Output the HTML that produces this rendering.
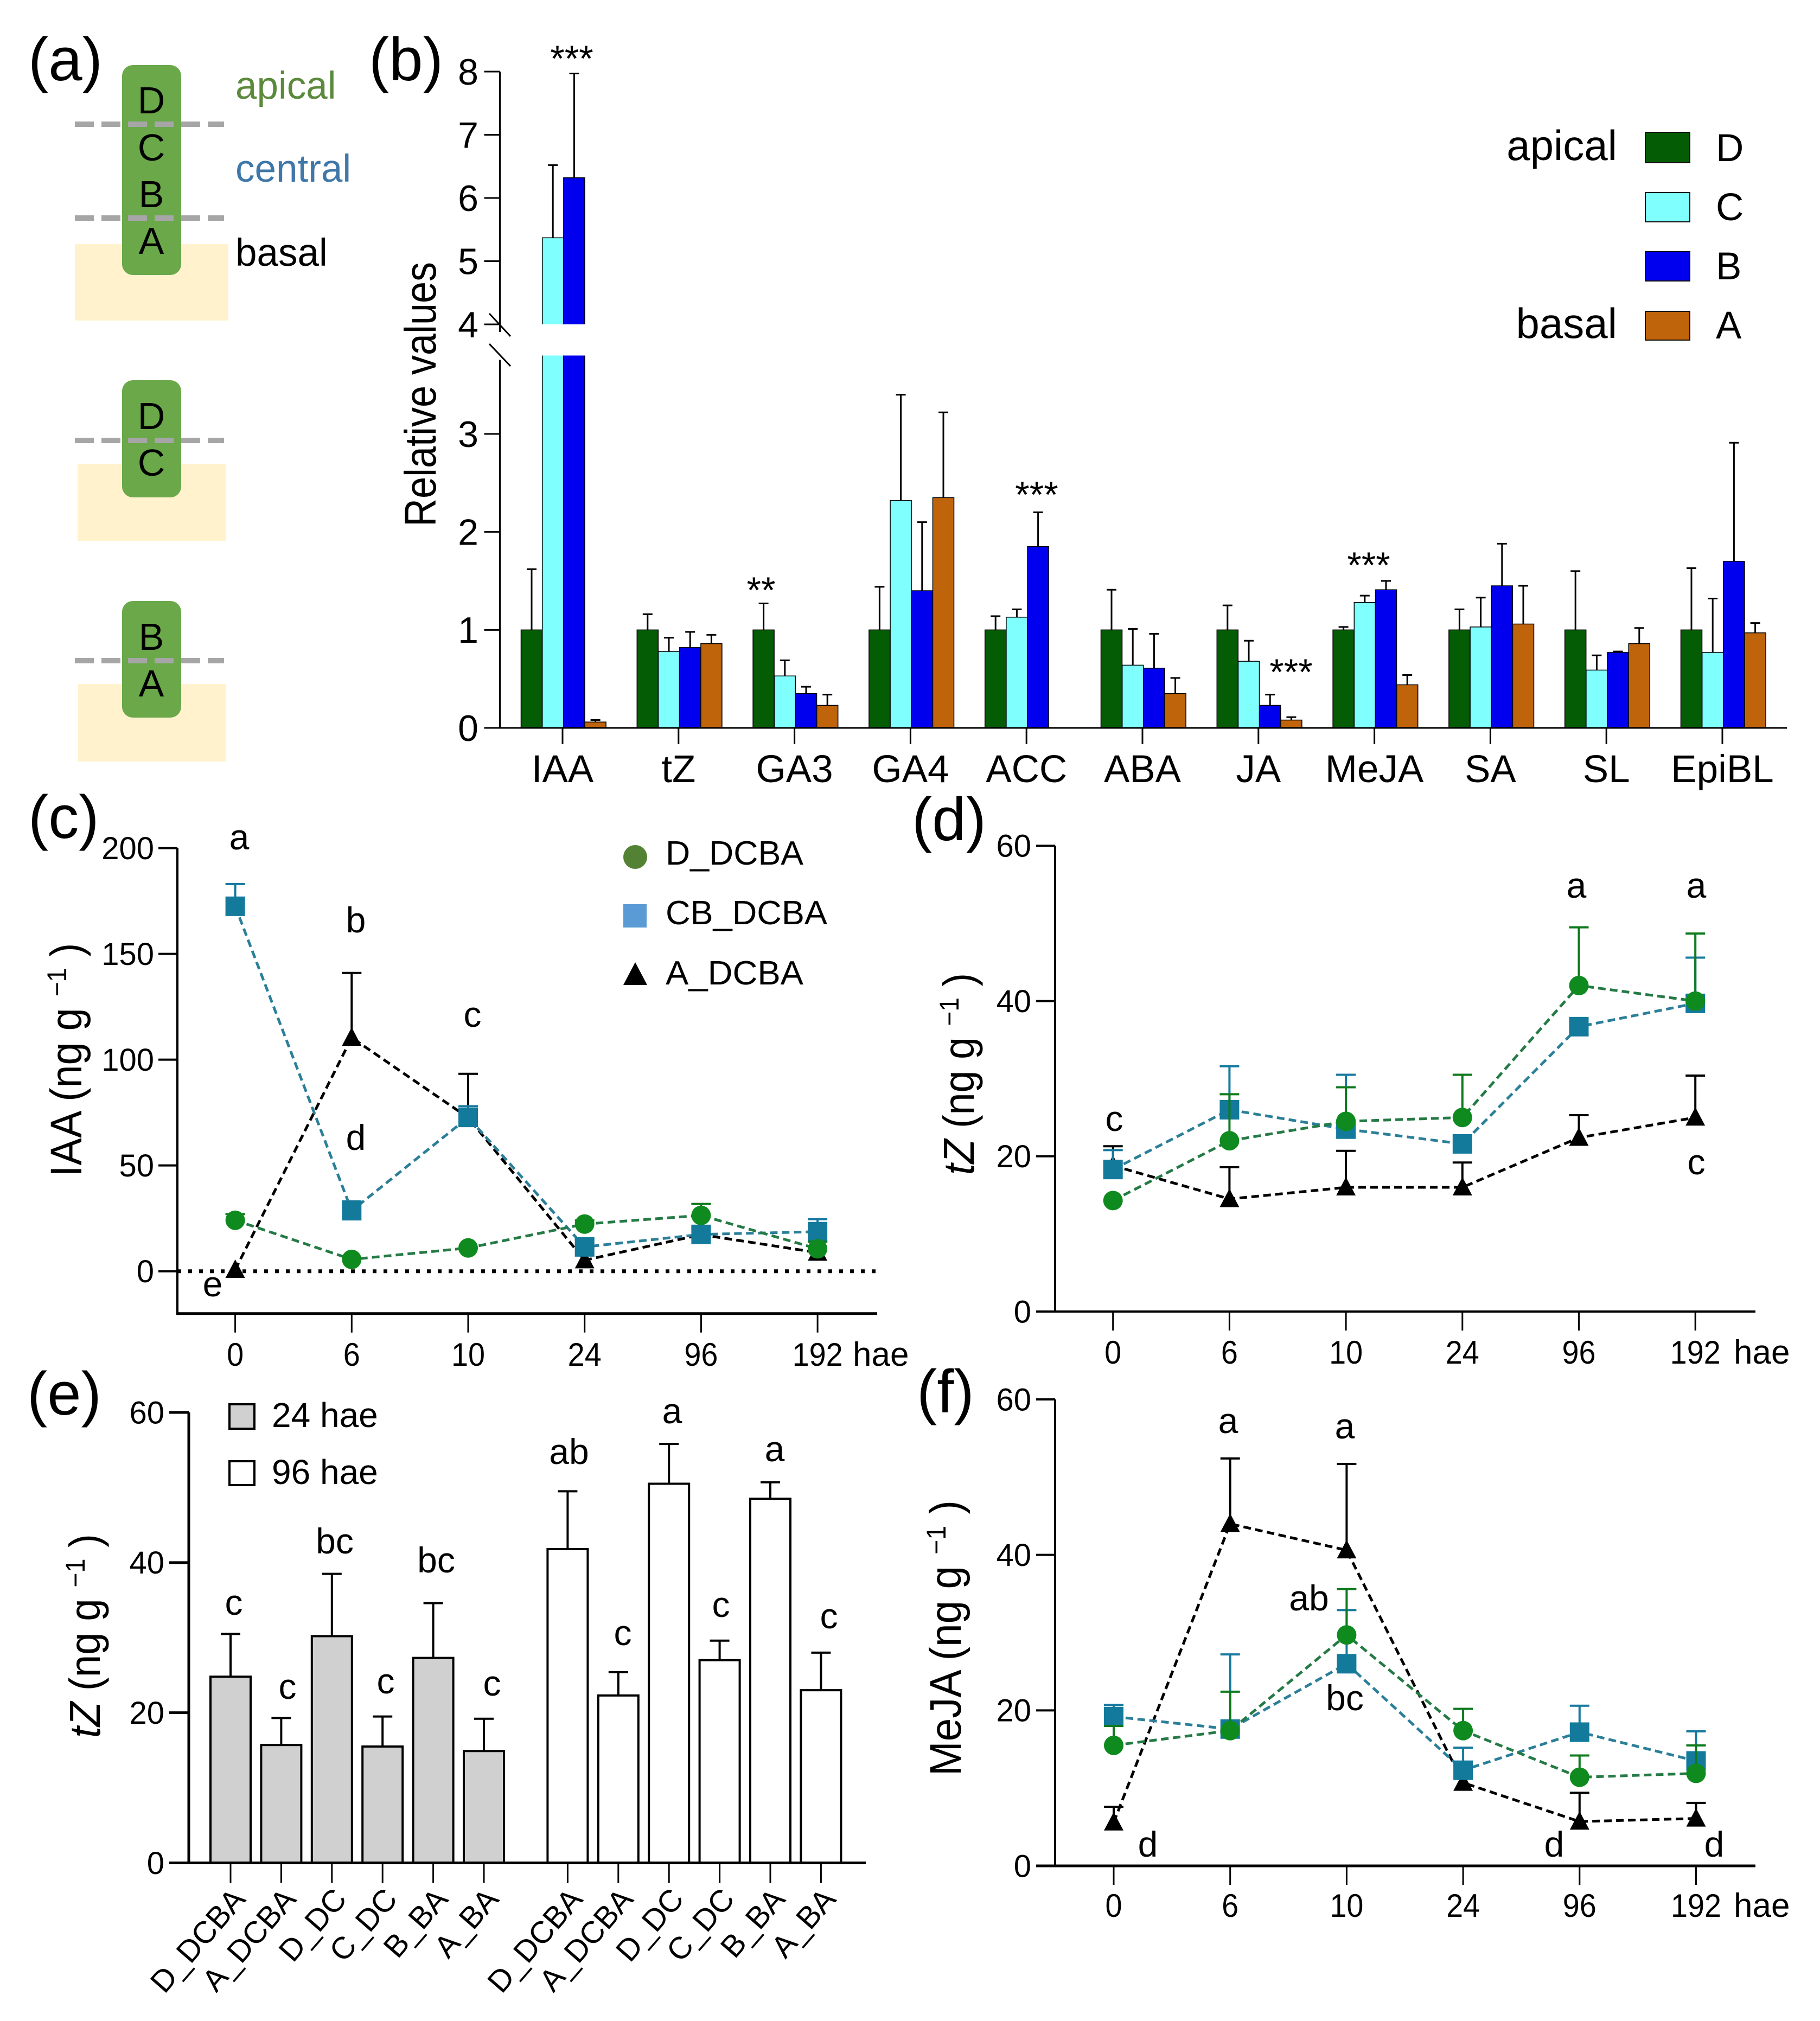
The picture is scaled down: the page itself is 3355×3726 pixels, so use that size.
<!DOCTYPE html>
<html lang="en">
<head>
<meta charset="utf-8">
<title>Hormone profiles across stem segments</title>
<style>
html,body{margin:0;padding:0;background:#fff;}
svg{display:block;}
text{font-family:"Liberation Sans",sans-serif;fill:#000;}
</style>
</head>
<body>
<svg id="fig" xmlns="http://www.w3.org/2000/svg" width="3355" height="3726" viewBox="0 0 3355 3726">
  <rect x="0" y="0" width="3355" height="3726" fill="#ffffff"/>

  <!-- panel labels -->
  <g font-size="112">
    <text x="52" y="148">(a)</text>
    <text x="680" y="148">(b)</text>
    <text x="52" y="1545">(c)</text>
    <text x="1681" y="1549">(d)</text>
    <text x="50" y="2608">(e)</text>
    <text x="1690" y="2604">(f)</text>
  </g>

  <!-- panel a -->
  <g>
    <rect x="138" y="450" width="283" height="141" fill="#fff2cc"/>
    <rect x="143" y="855" width="273" height="142" fill="#fff2cc"/>
    <rect x="144" y="1261" width="272" height="143" fill="#fff2cc"/>
    <rect x="225" y="120" width="109" height="387" rx="20" fill="#6aa84a"/>
    <rect x="225" y="701" width="109" height="216" rx="20" fill="#6aa84a"/>
    <rect x="225" y="1108" width="109" height="215" rx="20" fill="#6aa84a"/>
    <g stroke="#a6a6a6" stroke-width="10" stroke-dasharray="35 14">
      <line x1="138" y1="229" x2="413" y2="229"/>
      <line x1="138" y1="402" x2="413" y2="402"/>
      <line x1="138" y1="812" x2="413" y2="812"/>
      <line x1="138" y1="1218" x2="413" y2="1218"/>
    </g>
    <g font-size="70" text-anchor="middle">
      <text x="279" y="209">D</text>
      <text x="279" y="296">C</text>
      <text x="279" y="382">B</text>
      <text x="279" y="468">A</text>
      <text x="279" y="791">D</text>
      <text x="279" y="877">C</text>
      <text x="279" y="1198">B</text>
      <text x="279" y="1284">A</text>
    </g>
    <text x="434" y="182" font-size="71" style="fill:#5b8a3c">apical</text>
    <text x="434" y="335" font-size="71" style="fill:#3f77a8">central</text>
    <text x="434" y="490" font-size="71">basal</text>
  </g>

  <!-- panel b static -->
  <g>
    <text x="2981" y="295" font-size="78" text-anchor="end">apical</text>
    <text x="2981" y="623" font-size="78" text-anchor="end">basal</text>
    <rect x="3033" y="244" width="82" height="56" fill="#045c04" stroke="#111" stroke-width="2"/>
    <rect x="3033" y="355" width="82" height="54" fill="#80ffff" stroke="#111" stroke-width="2"/>
    <rect x="3033" y="464" width="82" height="54" fill="#0000ee" stroke="#111" stroke-width="2"/>
    <rect x="3033" y="574" width="82" height="53" fill="#c0640c" stroke="#111" stroke-width="2"/>
    <text x="3163" y="297" font-size="71">D</text>
    <text x="3163" y="406" font-size="71">C</text>
    <text x="3163" y="515" font-size="71">B</text>
    <text x="3163" y="624" font-size="71">A</text>
  </g>
  <text transform="translate(803 727) rotate(-90)" text-anchor="middle" font-size="82" textLength="488" lengthAdjust="spacingAndGlyphs">Relative values</text>
  <g font-size="68" text-anchor="middle">
    <text x="1054" y="131">***</text>
    <text x="1403" y="1111">**</text>
    <text x="1911" y="935">***</text>
    <text x="2380" y="1262">***</text>
    <text x="2523" y="1065">***</text>
  </g>

  <!-- panel c static -->
  <g>
    <circle cx="1171" cy="1580" r="22" fill="#548235"/>
    <rect x="1149" y="1667" width="43" height="43" fill="#5b9bd5"/>
    <polygon points="1171,1774 1149,1816 1193,1816" fill="#000"/>
    <text x="1227" y="1594" font-size="62" textLength="254" lengthAdjust="spacingAndGlyphs">D_DCBA</text>
    <text x="1227" y="1704" font-size="62" textLength="298" lengthAdjust="spacingAndGlyphs">CB_DCBA</text>
    <text x="1227" y="1815" font-size="62" textLength="254" lengthAdjust="spacingAndGlyphs">A_DCBA</text>
  </g>
  <text transform="translate(150 1954) rotate(-90)" text-anchor="middle" font-size="82" textLength="431" lengthAdjust="spacingAndGlyphs">IAA (ng g <tspan dy="-28" font-size="50">&#8722;1</tspan><tspan dy="28"> )</tspan></text>
  <g font-size="66" text-anchor="middle">
    <text x="441" y="1566">a</text>
    <text x="656" y="1719">b</text>
    <text x="871" y="1893">c</text>
    <text x="656" y="2120">d</text>
    <text x="392" y="2390">e</text>
  </g>

  <!-- panel d static -->
  <text transform="translate(1795 1980) rotate(-90)" text-anchor="middle" font-size="80" textLength="372" lengthAdjust="spacingAndGlyphs"><tspan font-style="italic">tZ</tspan> (ng g <tspan dy="-28" font-size="50">&#8722;1</tspan><tspan dy="28"> )</tspan></text>
  <g font-size="66" text-anchor="middle">
    <text x="2054" y="2085">c</text>
    <text x="2906" y="1655">a</text>
    <text x="3127" y="1655">a</text>
    <text x="3127" y="2165">c</text>
  </g>

  <!-- panel e static -->
  <text transform="translate(184 3016) rotate(-90)" text-anchor="middle" font-size="80" textLength="376" lengthAdjust="spacingAndGlyphs"><tspan font-style="italic">tZ</tspan> (ng g <tspan dy="-28" font-size="50">&#8722;1</tspan><tspan dy="28"> )</tspan></text>
  <g>
    <rect x="423" y="2589" width="46" height="45" fill="#d0d0d0" stroke="#000" stroke-width="4"/>
    <rect x="423" y="2694" width="46" height="44" fill="#ffffff" stroke="#000" stroke-width="4"/>
    <text x="501" y="2631" font-size="64">24 hae</text>
    <text x="501" y="2736" font-size="64">96 hae</text>
  </g>
  <g font-size="66" text-anchor="middle">
    <text x="431" y="2977">c</text>
    <text x="530" y="3132">c</text>
    <text x="617" y="2864">bc</text>
    <text x="711" y="3122">c</text>
    <text x="804" y="2899">bc</text>
    <text x="907" y="3126">c</text>
    <text x="1049" y="2699">ab</text>
    <text x="1148" y="3033">c</text>
    <text x="1239" y="2624">a</text>
    <text x="1329" y="2981">c</text>
    <text x="1428" y="2694">a</text>
    <text x="1528" y="3002">c</text>
  </g>

  <!-- panel f static -->
  <text transform="translate(1771 3020) rotate(-90)" text-anchor="middle" font-size="82" textLength="508" lengthAdjust="spacingAndGlyphs">MeJA (ng g <tspan dy="-28" font-size="50">&#8722;1</tspan><tspan dy="28"> )</tspan></text>
  <g font-size="66" text-anchor="middle">
    <text x="2264" y="2642">a</text>
    <text x="2479" y="2652">a</text>
    <text x="2413" y="2969">ab</text>
    <text x="2479" y="3153">bc</text>
    <text x="2116" y="3423">d</text>
    <text x="2865" y="3423">d</text>
    <text x="3160" y="3423">d</text>
  </g>
</svg>

<script>
// ---------- Panel b data ----------
const bCategories = ['IAA','tZ','GA3','GA4','ACC','ABA','JA','MeJA','SA','SL','EpiBL'];
const bTicksLower = [0,1,2,3];
const bTicksUpper = [4,5,6,7,8];
const bSegments = ['D','C','B','A'];
const bD  = [1,1,1,1,1,1,1,1,1,1,1];
const bDErr = [1.62,1.16,1.27,1.44,1.14,1.41,1.25,1.03,1.21,1.60,1.63];
const bC  = [5.37,0.78,0.53,2.32,1.13,0.64,0.68,1.28,1.03,0.59,0.77];
const bCErr = [6.52,0.92,0.69,3.40,1.21,1.01,0.89,1.35,1.33,0.74,1.32];
const bB  = [6.32,0.82,0.35,1.40,1.85,0.61,0.23,1.41,1.45,0.77,1.70];
const bBErr = [7.97,0.98,0.42,2.10,2.20,0.96,0.34,1.50,1.88,0.78,2.91];
const bA  = [0.06,0.86,0.23,2.35,null,0.35,0.08,0.44,1.06,0.86,0.97];
const bAErr = [0.08,0.95,0.34,3.22,null,0.51,0.11,0.54,1.45,1.02,1.07];

// ---------- Panel c data ----------
const timeLabels = ['0','6','10','24','96','192'];
const cTicks = [0,50,100,150,200];
const cD  = [24.1,5.6,11,22.3,26.4,10.6];
const cDErr = [27,null,null,24,31.8,14];
const cCB = [172.5,28.6,72.7,11.5,17.4,18.7];
const cCBErr = [183,33,78,15,21,24.6];
const cA  = [0.7,110.4,72.6,5.2,17.3,8.8];
const cAErr = [null,141,93.3,null,20,14];

// ---------- Panel d data ----------
const dTicks = [0,20,40,60];
const dD  = [14.3,22,24.5,25,42,40];
const dDErr = [null,28,28.9,30.5,49.5,48.7];
const dCB = [18.3,26,23.5,21.6,36.7,39.7];
const dCBErr = [20.8,31.6,30.5,null,null,45.6];
const dA  = [18.8,14.5,16,16,22.4,25];
const dAErr = [21.3,18.6,20.7,19.2,25.3,30.4];

// ---------- Panel e data ----------
const eCategories = ['D_DCBA','A_DCBA','D_DC','C_DC','B_BA','A_BA','D_DCBA','A_DCBA','D_DC','C_DC','B_BA','A_BA'];
const eTimepoints = ['24 hae','24 hae','24 hae','24 hae','24 hae','24 hae','96 hae','96 hae','96 hae','96 hae','96 hae','96 hae'];
const eTicks = [0,20,40,60];
const eValues = [24.8,15.7,30.2,15.5,27.3,14.9,41.8,22.3,50.5,27,48.5,23];
const eErrors = [30.5,19.3,38.5,19.5,34.6,19.2,49.5,25.4,55.8,29.6,50.7,28];

// ---------- Panel f data ----------
const fTicks = [0,20,40,60];
const fD  = [15.5,17.4,29.7,17.4,11.4,11.9];
const fDErr = [18,22.4,35.6,20.2,14.2,15.5];
const fCB = [19.2,17.6,26,12.3,17.2,13.5];
const fCBErr = [20.7,27.2,32.9,15.2,20.6,17.3];
const fA  = [5.6,44,40.6,10.7,5.7,6.1];
const fAErr = [7.6,52.4,51.7,null,9.4,8.1];

// ---------- helpers ----------
const NS = 'http://www.w3.org/2000/svg';
const fig = document.getElementById('fig');
function mk(tag, attrs, parent) {
  const e = document.createElementNS(NS, tag);
  for (const k in attrs) e.setAttribute(k, attrs[k]);
  (parent || fig).appendChild(e);
  return e;
}
function linear(d0, d1, r0, r1) {
  return v => r0 + (v - d0) * (r1 - r0) / (d1 - d0);
}
const COL = {D:'#0f8a1e', CB:'#137a9c', A:'#000000'};
const LINE = {D:'#257a45', CB:'#2b7f98', A:'#000000'};
const STEM = {D:'#0f7a1e', CB:'#17799f', A:'#000000'};

function yAxis(name, x, yTop, yBottom, ticks, scale, tickLen, sw, fs, labelRight) {
  const g = mk('g', {});
  
  
  const l = mk('line', {x1:x, y1:yTop, x2:x, y2:yBottom, stroke:'#000', 'stroke-width':sw}, g);
  
  
  ticks.forEach(t => {
    const y = scale(t);
    const tk = mk('line', {x1:x - tickLen, y1:y, x2:x, y2:y, stroke:'#000', 'stroke-width':sw}, g);
    
    
    const tx = mk('text', {x:labelRight, y:y + fs * 0.35, 'font-size':fs, 'text-anchor':'end'}, g);
    tx.textContent = String(t);
    
    
  });
}
function xAxis(name, x1, x2, y, sw) {
  const l = mk('line', {x1:x1, y1:y, x2:x2, y2:y, stroke:'#000', 'stroke-width':sw});
  
  
}
function timeAxis(name, scale, y, baseline, sw, haeX) {
  timeLabels.forEach((lab, i) => {
    const x = scale(i);
    const tk = mk('line', {x1:x, y1:y, x2:x, y2:y + 35, stroke:'#000', 'stroke-width':sw});
    
    
    const tx = mk('text', {'font-size':60, 'text-anchor':'middle', transform:'translate(' + x + ' ' + baseline + ') scale(.93 1)'});
    tx.textContent = lab;
    
    
  });
  const h = mk('text', {x:haeX, y:baseline, 'font-size':62});
  h.textContent = 'hae';
  
  
}
function errBar(x, yv, ye, capHalf, color, sw) {
  const s = mk('line', {x1:x, y1:yv, x2:x, y2:ye, stroke:color, 'stroke-width':sw});
  
  
  const c = mk('line', {x1:x - capHalf, y1:ye, x2:x + capHalf, y2:ye, stroke:color, 'stroke-width':sw});
  
  
}
function drawSeries(key, vals, errs, xs, ys) {
  const pts = vals.map((v, i) => xs(i) + ',' + ys(v)).join(' ');
  errs.forEach((e, i) => { if (e !== null) errBar(xs(i), ys(vals[i]), ys(e), 18, STEM[key], 4); });
  const pl = mk('polyline', {points:pts, fill:'none', stroke:LINE[key], 'stroke-width':5, 'stroke-dasharray':'14 8'});
  
  
  vals.forEach((v, i) => {
    const x = xs(i), y = ys(v);
    let m;
    if (key === 'D') m = mk('circle', {cx:x, cy:y, r:18, fill:COL.D});
    else if (key === 'CB') m = mk('rect', {x:x - 18, y:y - 18, width:36, height:36, fill:COL.CB});
    else m = mk('polygon', {points:x + ',' + (y - 19) + ' ' + (x - 18) + ',' + (y + 15) + ' ' + (x + 18) + ',' + (y + 15), fill:COL.A});
    
    
  });
}

// ---------- Panel b ----------
const bYLow = linear(0, 3, 1342, 800);
const bYUp = linear(4, 8, 598, 132);
const bBreakLow = 3.8;
const bYVal = v => v > bBreakLow ? bYUp(Math.max(v, 4)) : bYLow(v);
const bX = i => 1037 + 213.8 * i;
const bOffset = j => -57 + 39.2 * j;
const bFills = ['#045c04','#80ffff','#0000ee','#c0640c'];
const bVals = [bD, bC, bB, bA];
const bErrs = [bDErr, bCErr, bBErr, bAErr];

bVals.forEach((vals, j) => {
  vals.forEach((v, i) => {
    if (v === null) return;
    const cx = bX(i) + bOffset(j);
    const e = bErrs[j][i];
    errBar(cx, bYVal(v), bYVal(e), 9, '#000', 3);
    if (v > bBreakLow) {
      const whole = mk('rect', {x:cx - 19.5, y:bYUp(v), width:39, height:bYLow(0) - bYUp(v), fill:bFills[j], stroke:'#000', 'stroke-width':1.5});
      
      
      const gap = mk('rect', {x:cx - 22, y:bYUp(4), width:44, height:bYLow(bBreakLow) - bYUp(4), fill:'#ffffff'});
      
      
    } else {
      const bar = mk('rect', {x:cx - 19.5, y:bYLow(v), width:39, height:bYLow(0) - bYLow(v), fill:bFills[j], stroke:'#000', 'stroke-width':1.5});
      
      
    }
  });
});
yAxis('panel-b-lower', 921.5, bYLow(bBreakLow) + 8, 1342, bTicksLower, bYLow, 29, 3, 68, 882);
yAxis('panel-b-upper', 921.5, 132, 612, bTicksUpper, bYUp, 29, 3, 68, 882);
xAxis('panel-b', 920, 3294, 1342, 3);
bCategories.forEach((c, i) => {
  const x = bX(i);
  const tk = mk('line', {x1:x, y1:1342, x2:x, y2:1372, stroke:'#000', 'stroke-width':3});
  
  
  const tx = mk('text', {x:x, y:1442, 'font-size':71, 'text-anchor':'middle'});
  tx.textContent = c;
  
  
});
const brk1 = mk('line', {x1:902, y1:578, x2:941, y2:620, stroke:'#000', 'stroke-width':3});


const brk2 = mk('line', {x1:902, y1:634, x2:941, y2:675, stroke:'#000', 'stroke-width':3});



// ---------- Panel c ----------
const cY = linear(0, 200, 2343.7, 1563.6);
const cX = i => 433.6 + 214.7 * i;
yAxis('panel-c', 327, 1563, cY(-20), cTicks, cY, 35, 4, 58, 284);
xAxis('panel-c', 325, 1617, cY(-20), 5);
timeAxis('panel-c', cX, cY(-20), 2518, 3, 1572);
const zero = mk('line', {x1:327, y1:cY(0), x2:1617, y2:cY(0), stroke:'#000', 'stroke-width':7, 'stroke-dasharray':'7 13'});


drawSeries('A', cA, cAErr, cX, cY);
drawSeries('CB', cCB, cCBErr, cX, cY);
drawSeries('D', cD, cDErr, cX, cY);

// ---------- Panel d ----------
const dY = linear(0, 60, 2418, 1559.4);
const dX = i => 2051.7 + 214.7 * i;
yAxis('panel-d', 1945, 1559, 2418, dTicks, dY, 35, 4, 58, 1901);
xAxis('panel-d', 1943, 3236, 2418, 4);
timeAxis('panel-d', dX, 2418, 2514, 3, 3196);
drawSeries('A', dA, dAErr, dX, dY);
drawSeries('CB', dCB, dCBErr, dX, dY);
drawSeries('D', dD, dDErr, dX, dY);

// ---------- Panel e ----------
const eY = linear(0, 60, 3434.5, 2604);
const eX = i => 425 + 93.4 * i + (i >= 6 ? 61 : 0);
eValues.forEach((v, i) => {
  const x = eX(i);
  errBar(x, eY(v), eY(eErrors[i]), 18, '#000', 4);
  const bar = mk('rect', {x:x - 37, y:eY(v), width:74, height:eY(0) - eY(v), fill:i < 6 ? '#d0d0d0' : '#ffffff', stroke:'#000', 'stroke-width':4});
  
  
  const tk = mk('line', {x1:x, y1:eY(0), x2:x, y2:eY(0) + 37, stroke:'#000', 'stroke-width':3});
  
  
  const tx = mk('text', {'font-size':57, 'text-anchor':'end', transform:'translate(' + (x + 30) + ' 3503) rotate(-49)'});
  tx.textContent = eCategories[i];
  
  
});
yAxis('panel-e', 348, 2604, 3434.5, eTicks, eY, 36, 5, 58, 303);
xAxis('panel-e', 312, 1596, 3434.5, 5);

// ---------- Panel f ----------
const fY = linear(0, 60, 3440, 2580);
const fX = i => 2053 + 214.7 * i;
yAxis('panel-f', 1945, 2580, 3440, fTicks, fY, 35, 4, 58, 1901);
xAxis('panel-f', 1910, 3236, 3440, 5);
timeAxis('panel-f', fX, 3440, 3534, 3, 3196);
drawSeries('A', fA, fAErr, fX, fY);
drawSeries('CB', fCB, fCBErr, fX, fY);
drawSeries('D', fD, fDErr, fX, fY);
</script>
</body>
</html>
